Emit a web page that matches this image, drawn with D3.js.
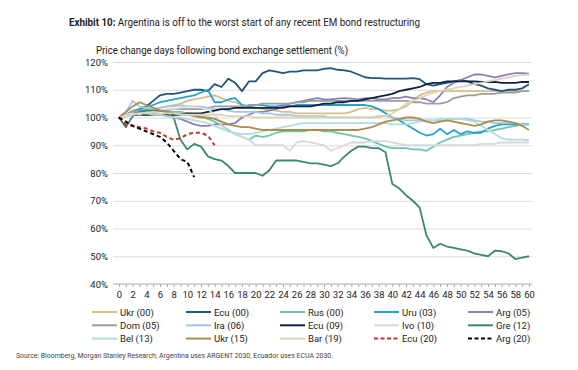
<!DOCTYPE html>
<html>
<head>
<meta charset="utf-8">
<script src="https://cdn.jsdelivr.net/npm/d3@7"></script>
<style>
  body { margin: 0; background: #fff; }
  svg { display: block; font-family: Roboto, "Liberation Sans", sans-serif; }
</style>
</head>
<body>
<div class="canvas"></div>
<script>
// series values, one per day after settlement (day 0 .. 60)
const ukr00 = [100,101,102,102.5,103,103,103.5,104,104.5,105,106,106.5,107,107.5,108,107,106,105.5,104.5,104,103.5,103,103,102.5,102,102,101.5,101.5,101.5,101.5,101.5,101.5,101.5,101.5,102,103,103.5,103,103,102.5,102.5,103,104,106,108,109,109.5,109.5,109.5,109.5,109.5,109.5,109.5,109.5,109.5,109.5,109.5,109.5,109.5,109.5,109.5];
const ecu00 = [100,101,101.5,103,104,106,108,108.5,108.5,109,109.5,110,110,109.5,112,111,114,112.5,109.5,113,113,116,117,116.5,116,116.5,116.5,117,117,117,117.5,117.8,117.2,117,116.5,115.5,114.5,114.2,114.2,114,114,114,114,114.2,113.8,112,111.5,112,112.5,113,113.5,113,112,111.5,110.5,110,109.5,110,110,110.5,112];
const rus00 = [100,101,102.5,103,103,102.5,102.5,102,102,102,101.5,101,100.5,99.5,98.5,97,95.5,94,93,92,93.5,93,93.5,94.5,95,95,95,95,95.5,95.5,95,95,94.5,94,93.5,93,92.5,91.5,90.5,89.5,89,89,89,88.5,88.5,88,89.5,91,92,93,93.5,94,94.5,95,95,95.5,96,96.5,97,97.5,97.5];
const uru03 = [100,101,102,103,104,104.5,105.5,106,106.5,107,107.5,108,109,110,105.5,105.5,106.5,107,104.5,104,104.5,104.5,104,104,104.5,104,104.5,104.5,104.5,104.5,104.5,104.5,104.5,104.5,104.5,104.5,104.5,104,103,101.5,100,99,97.5,96,94.5,93.5,94,96,94,95.5,94,95,94.5,94.5,96,97,97.5,97.5,97.5,97.5,97.5];
const arg05 = [100,101,102,102,101.5,101,101,100.5,100,99.5,98.5,97.5,97,97,97.5,97.5,97.5,98,100,101,102,102,102.5,103,104,105,105.5,106,106.5,107,106.5,106.5,106.8,107,106.8,106.5,107,107,106.5,106.5,107,107,107.5,107,107,106.5,105.5,108,111,112.5,113.5,114.5,115.5,115.5,115,114.5,115,115.5,116,116,115.8];
const dom05 = [100,101,102,102.5,102,102,102.5,102.5,103,103,103,103,103,103.5,104,104,104,104,104,104.5,104.5,105,105,105,105,105,105.5,105.5,106,106,106,106,106,106,106,106,106,106,106,106,106,106,106,105.5,105.5,105,105,105,105.5,107,107.5,108,108,108.5,108.5,108.5,109,109,109,109.5,109.5];
const ira06 = [100,102,106,104,103.5,103,103.5,104,104,104.5,104,104,104,103.5,103,103,102.5,102,102,102,102,101.5,101.5,101,101,101,100.5,100.5,100.5,100.5,100.5,100,100,100,100,100,100,100,100.5,100.5,100,99.5,99,99,99,99,99,99,99,99.5,99.5,99.5,99,98.5,98.5,98,98,98,98,97.5,97.5];
const ecu09 = [100,100.5,101,101,101,101,101,101,101,101,101.5,101.5,101.5,102,102.5,103,103,103.5,103.5,103.5,103.5,103.5,103.5,103.5,103.5,104,104,104,104,104.5,105,105,105.5,105.5,106,106,106.5,107,107.5,108,108.5,109.5,110,110.5,111,112,112.5,112.5,113,113,113,113,113,112.8,112.8,112.8,112.5,112.5,112.5,112.8,112.8];
const ivo10 = [100,101,101.5,101,102,102,102.5,103,103,103.5,104,104,103.5,103,101,97,95,94,93,92,90,90,90,90,90,88,91,91.5,91,90.5,90,88,89,90,91,91,91,91.5,91.5,91.5,91,90.5,90,90,90,90,90,90,90,90,90,90,90,90.5,90.5,90.5,91,91,91,91,91];
const gre12 = [100,96.5,100.5,102,102.5,102.5,102.5,102,100,92,88.5,90.5,89.5,86,85,84.5,82.5,80,80,80,80,79,81,84.5,84.5,84.5,84.5,84,83.5,83.5,83,82.5,83.5,86,88,89.5,89.5,89,89,87.5,76,74.5,72,70,67.5,57.5,53,54.5,53.5,53,52.5,52,51,50.5,50,52,51.8,51,49,49.5,50];
const bel13 = [100,100.5,101,101.5,101.5,101,101,100.5,100,100,99.5,99,98.5,98,97,96,95,94.5,94,94,94.5,95,95.5,96,96.5,97,97.5,98,98,98,98,98,98,98,98,98,98,98,98,98,97.5,97.5,97.5,98,98.5,99,99,99.5,99.5,99.5,99.5,99,98.5,97,95.5,94,92.5,92,92,92,91.8];
const ukr15 = [100,102,104,105.5,104.5,103.5,102.5,102,101.5,101,101,100.5,100,100,99.5,98.5,97.5,97,96.5,96.5,96,95.5,95.5,95.5,95.5,95.5,95.5,95.5,95.5,95.5,95.5,95.5,95.5,95.5,95.5,95.5,96,96.5,97.5,98.5,99,99.5,100,100,99.5,98.5,98,98.5,99,98.5,98,97.5,97,97.5,98.5,99,99,98.5,98,97,95.5];
const bar19 = [100,100.5,101,101.5,101.5,102,101.5,101.5,101.5,101,101,101,101,101,101,101,100.5,100.5,100.5,100.5,100,100,100,100,100,100,100,100,100,100,100,100,100,100,100,100,100,100,100,100.5,101.5,103,105,106,107,108,109,109.5,110,110.5,111,111.5,112,112.5,113,113.5,114,114.5,115,115.3,115.5];
const ecu20 = [100,97.5,97,96.5,96,95,94.5,93,92,92.5,94,94.5,94.5,93.5,90];
const arg20 = [100,98.5,97,96,95,94,93,91,88,85,84,78.5];

const seriesNames = ['Ukr (00)','Ecu (00)','Rus (00)','Uru (03)','Arg (05)','Dom (05)','Ira (06)','Ecu (09)','Ivo (10)','Gre (12)','Bel (13)','Ukr (15)','Bar (19)','Ecu (20)','Arg (20)'];
const seriesValues = [ukr00, ecu00, rus00, uru03, arg05, dom05, ira06, ecu09, ivo10, gre12, bel13, ukr15, bar19, ecu20, arg20];

// tick labels
const yTicks = [40, 50, 60, 70, 80, 90, 100, 110, 120];
const xLabels = [0,2,4,6,8,10,12,14,16,18,20,22,24,26,28,30,32,34,36,38,40,42,44,46,48,50,52,54,56,58,60];

// styles
const colors = ['#d8bf88','#1f5580','#6cc5ae','#26a0d2','#8b80b8','#9d9d9d','#a3c7e3','#0f2340','#d8d8de','#3b8674','#b2dddc','#ae8c4b','#ddd5b8','#c8312e','#000000'];
const dashed = ['Ecu (20)', 'Arg (20)'];

const svg = d3.select('.canvas')
    .append('svg')
    .attr('width', 578)
    .attr('height', 370);

const gridLeft = 113, gridRight = 532;
const x = d3.scaleLinear().domain([0, 60]).range([119, 529]);
const y = d3.scaleLinear().domain([40, 120]).range([284, 62]);

// titles
svg.append('text')
    .attr('x', 69).attr('y', 26)
    .attr('font-size', 10.5)
    .attr('fill', '#222')
    .attr('textLength', 351).attr('lengthAdjust', 'spacingAndGlyphs')
    .html('<tspan font-weight="bold">Exhibit 10:</tspan> Argentina is off to the worst start of any recent EM bond restructuring');

svg.append('text')
    .attr('x', 96).attr('y', 54)
    .attr('font-size', 11)
    .attr('fill', '#222')
    .attr('textLength', 252).attr('lengthAdjust', 'spacingAndGlyphs')
    .text('Price change days following bond exchange settlement (%)');

// y grid + labels
const yAxisGroup = svg.append('g')
    .attr('transform', `translate(${gridLeft},0)`)
    .call(d3.axisLeft(y)
        .tickValues(yTicks)
        .tickSize(-(gridRight - gridLeft))
        .tickPadding(5)
        .tickFormat(d => d + '%'));
yAxisGroup.select('.domain').remove();
yAxisGroup.selectAll('line').attr('stroke', '#dcdcdc');
yAxisGroup.selectAll('text')
    .attr('font-size', 9.5)
    .attr('fill', '#222')
    .attr('font-family', 'Roboto, sans-serif');

// x axis
const xAxisGroup = svg.append('g')
    .attr('transform', `translate(0,${y(40)})`)
    .call(d3.axisBottom(x)
        .tickValues(d3.range(0, 61))
        .tickSize(3)
        .tickPadding(4)
        .tickFormat(d => xLabels.includes(d) ? d : ''));
xAxisGroup.select('.domain').remove();
xAxisGroup.append('line')
    .attr('x1', gridLeft).attr('x2', gridRight)
    .attr('stroke', '#bdbdbd');
xAxisGroup.selectAll('.tick line').attr('stroke', '#a8a8a8');
xAxisGroup.selectAll('text')
    .attr('font-size', 9.5)
    .attr('fill', '#222')
    .attr('font-family', 'Roboto, sans-serif');

// lines
const line = d3.line()
    .x((d, i) => x(i))
    .y(d => y(d));

svg.append('g')
    .selectAll('path')
    .data(seriesValues)
    .enter()
    .append('path')
    .attr('d', line)
    .attr('fill', 'none')
    .attr('stroke', (d, i) => colors[i])
    .attr('stroke-width', (d, i) => dashed.includes(seriesNames[i]) ? 2 : 1.8)
    .attr('stroke-dasharray', (d, i) => dashed.includes(seriesNames[i]) ? '4,3' : null)
    .attr('stroke-linejoin', 'round');

// legend
const legend = svg.append('g');
const items = legend.selectAll('g')
    .data(seriesNames)
    .enter()
    .append('g')
    .attr('transform', (d, i) => `translate(${92 + (i % 5) * 94},${312 + Math.floor(i / 5) * 13.3})`);

items.append('line')
    .attr('x1', 0).attr('x2', 25)
    .attr('stroke', (d, i) => colors[i])
    .attr('stroke-width', 2)
    .attr('stroke-dasharray', d => dashed.includes(d) ? '4,2.5' : null);

items.append('text')
    .attr('x', 28).attr('y', 3.5)
    .attr('font-size', 9.5)
    .attr('fill', '#222')
    .text(d => d);

// source
svg.append('text')
    .attr('x', 16).attr('y', 358)
    .attr('font-size', 6.5)
    .attr('fill', '#444')
    .attr('textLength', 317).attr('lengthAdjust', 'spacingAndGlyphs')
    .text('Source: Bloomberg, Morgan Stanley Research; Argentina uses ARGENT 2030, Ecuador uses ECUA 2030.');
</script>
</body>
</html>
